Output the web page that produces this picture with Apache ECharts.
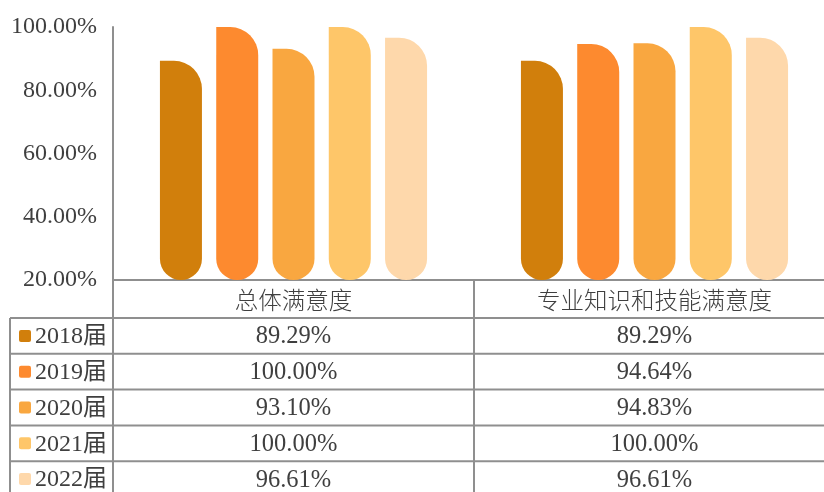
<!DOCTYPE html>
<html>
<head>
<meta charset="utf-8">
<script src="https://cdn.jsdelivr.net/npm/echarts@6/dist/echarts.min.js"></script>
<style>
html,body{margin:0;padding:0;background:#fff;}
#main{width:824px;height:492px;}
</style>
</head>
<body>
<div id="main"></div>
<script>
// ---- data ----
const categories = ['总体满意度', '专业知识和技能满意度'];
const seriesNames = ['2018届', '2019届', '2020届', '2021届', '2022届'];
const values2018 = [89.29, 89.29];
const values2019 = [100.00, 94.64];
const values2020 = [93.10, 94.83];
const values2021 = [100.00, 100.00];
const values2022 = [96.61, 96.61];
const yTicks = [20, 40, 60, 80, 100];

// ---- styles ----
const colors = ['#D17F0C', '#FD8A2F', '#F9A740', '#FEC669', '#FED8AB'];
const seriesValues = [values2018, values2019, values2020, values2021, values2022];
const serif = '"Liberation Serif", "Times New Roman", "Noto Sans CJK SC", serif';
const textColor = '#3f3f3f';
const lineColor = '#8f8f8f';

const chart = echarts.init(document.getElementById('main'), null, {renderer: 'canvas'});

const series = seriesNames.map((name, i) => ({
  name: name,
  type: 'bar',
  data: seriesValues[i],
  barWidth: 42,
  barGap: '34%',
  itemStyle: { color: colors[i], borderRadius: [0, 28, 21, 21] },
  clip: true
}));

chart.setOption({
  animation: false,
  grid: { left: 113, top: 27, width: 722, bottom: 212, containLabel: false, outerBoundsMode: 'none' },
  xAxis: {
    type: 'category',
    data: categories,
    axisLine: { show: true, lineStyle: { color: lineColor, width: 2 } },
    axisTick: { show: false },
    axisLabel: {
      margin: 8,
      fontSize: 23.5,
      color: textColor,
      fontFamily: '"Noto Sans CJK SC", sans-serif',
      fontWeight: 300
    }
  },
  yAxis: {
    type: 'value',
    min: yTicks[0],
    max: yTicks[yTicks.length - 1],
    interval: 20,
    axisLine: { show: true, lineStyle: { color: lineColor, width: 2 } },
    axisTick: { show: false },
    splitLine: { show: false },
    axisLabel: {
      margin: 16,
      fontSize: 24,
      color: textColor,
      fontFamily: serif,
      formatter: v => v.toFixed(2) + '%'
    }
  },
  series: series
});

// ---- data table below the axis ----
function buildTable() {
  const axisY = chart.convertToPixel({ yAxisIndex: 0 }, yTicks[0]);
  const centers = categories.map((c, i) => chart.convertToPixel({ xAxisIndex: 0 }, i));
  const colW = centers[1] - centers[0];
  const axisX = centers[0] - colW / 2;
  const headerH = 38;
  const rowH = 35.8;
  const tableLeft = 10;
  const right = 824;
  const bottom = 492;
  const els = [];
  const ls = { stroke: lineColor, lineWidth: 2 };
  els.push({ type: 'line', shape: { x1: axisX, y1: axisY, x2: axisX, y2: bottom }, style: ls, silent: true });
  els.push({ type: 'line', shape: { x1: axisX + colW, y1: axisY, x2: axisX + colW, y2: bottom }, style: ls, silent: true });
  els.push({ type: 'line', shape: { x1: tableLeft, y1: axisY + headerH, x2: tableLeft, y2: bottom }, style: ls, silent: true });
  seriesNames.forEach((name, r) => {
    const top = axisY + headerH + r * rowH;
    els.push({ type: 'line', shape: { x1: tableLeft, y1: top, x2: right, y2: top }, style: ls, silent: true });
    const cy = top + rowH / 2;
    els.push({ type: 'rect', shape: { x: 19, y: cy - 6, width: 12, height: 12, r: 2 }, style: { fill: colors[r] }, silent: true });
    els.push({ type: 'text', x: 35, y: cy + 1, style: { text: name, fill: textColor, font: '24px ' + serif, textAlign: 'left', textVerticalAlign: 'middle' }, silent: true });
    categories.forEach((c, ci) => {
      els.push({ type: 'text', x: centers[ci], y: cy + 1, style: { text: seriesValues[r][ci].toFixed(2) + '%', fill: textColor, font: '24.5px ' + serif, textAlign: 'center', textVerticalAlign: 'middle' }, silent: true });
    });
  });
  const lastLine = axisY + headerH + seriesNames.length * rowH;
  els.push({ type: 'line', shape: { x1: tableLeft, y1: lastLine, x2: right, y2: lastLine }, style: ls, silent: true });
  chart.setOption({ graphic: { elements: els } });
}
buildTable();
</script>
</body>
</html>
